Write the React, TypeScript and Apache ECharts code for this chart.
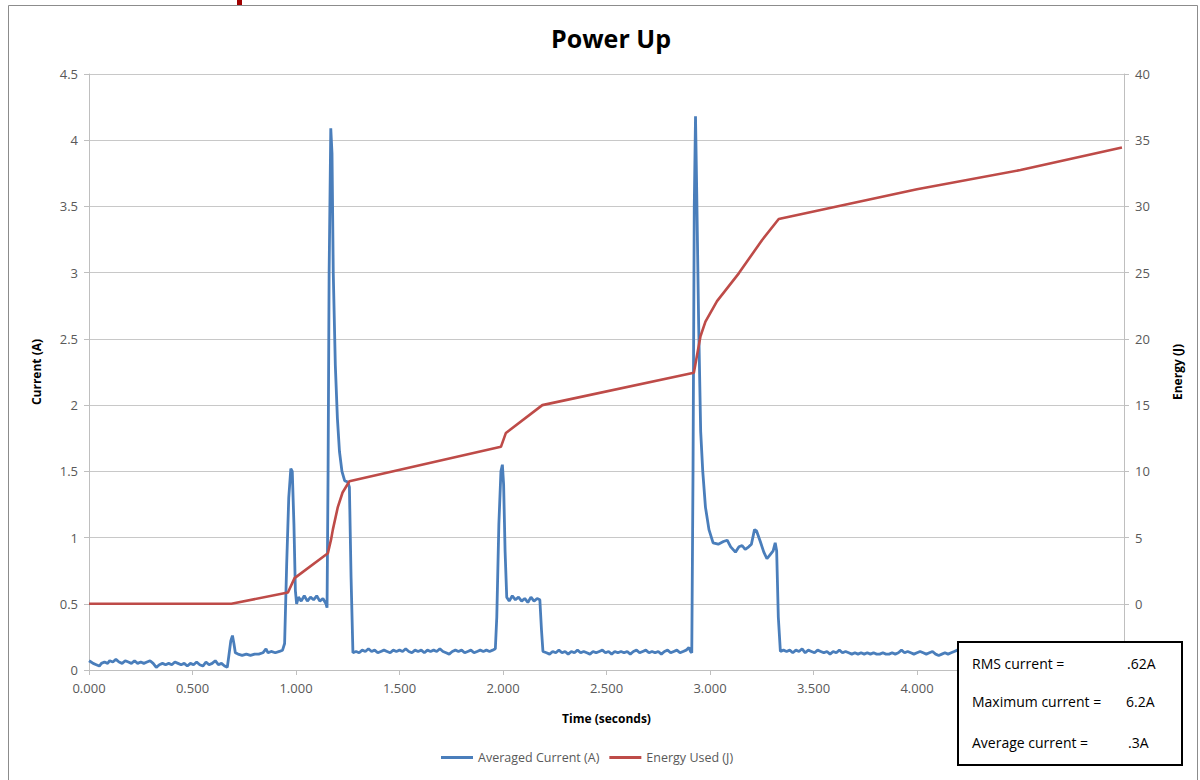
import React, { useEffect, useRef } from "react";
import * as echarts from "echarts";

const TITLE = "Power Up";
const X_TICKS_MIN = 0;
const X_TICKS_MAX = 5;
const X_INTERVAL = 0.5;
const LEFT_MIN = 0;
const LEFT_MAX = 4.5;
const LEFT_INTERVAL = 0.5;
const RIGHT_MIN = -5;
const RIGHT_MAX = 40;
const RIGHT_INTERVAL = 5;

const currentName = "Averaged Current (A)";
const energyName = "Energy Used (J)";

// [time (s), current (A)]
const currentData: [number, number][] = [
  [0.000,0.07],[0.010,0.06],[0.020,0.05],[0.035,0.04],[0.050,0.03],[0.060,0.05],[0.075,0.06],[0.090,0.05],[0.100,0.07],[0.115,0.06],
  [0.130,0.08],[0.145,0.06],[0.160,0.05],[0.175,0.07],[0.190,0.06],[0.205,0.05],[0.220,0.07],[0.235,0.05],[0.250,0.06],[0.265,0.05],
  [0.280,0.06],[0.295,0.07],[0.310,0.05],[0.325,0.02],[0.340,0.04],[0.355,0.05],[0.370,0.04],[0.385,0.05],[0.400,0.04],[0.415,0.06],
  [0.430,0.05],[0.445,0.04],[0.460,0.05],[0.475,0.03],[0.490,0.05],[0.505,0.04],[0.520,0.06],[0.535,0.04],[0.550,0.03],[0.565,0.06],
  [0.580,0.04],[0.595,0.05],[0.610,0.07],[0.625,0.04],[0.640,0.05],[0.655,0.03],[0.668,0.02],[0.675,0.10],[0.685,0.22],[0.693,0.26],
  [0.700,0.20],[0.707,0.13],[0.720,0.12],[0.740,0.11],[0.760,0.12],[0.780,0.11],[0.800,0.12],[0.820,0.12],[0.840,0.13],[0.855,0.16],
  [0.865,0.13],[0.880,0.14],[0.900,0.13],[0.920,0.14],[0.935,0.15],[0.945,0.20],[0.955,0.80],[0.965,1.30],[0.975,1.52],[0.982,1.50],
  [0.990,1.10],[0.997,0.60],[1.003,0.50],[1.012,0.55],[1.025,0.52],[1.040,0.56],[1.055,0.52],[1.070,0.55],[1.085,0.53],[1.100,0.56],
  [1.115,0.52],[1.130,0.54],[1.145,0.50],[1.150,0.47],[1.155,1.50],[1.160,3.00],[1.168,4.09],[1.174,3.90],[1.180,3.00],[1.190,2.30],
  [1.200,1.90],[1.210,1.65],[1.222,1.50],[1.235,1.43],[1.250,1.42],[1.258,1.38],[1.266,0.70],[1.275,0.13],[1.290,0.14],[1.305,0.13],
  [1.320,0.15],[1.335,0.14],[1.350,0.16],[1.365,0.14],[1.380,0.15],[1.395,0.13],[1.410,0.14],[1.425,0.15],[1.440,0.14],[1.455,0.13],
  [1.470,0.15],[1.485,0.14],[1.500,0.15],[1.515,0.14],[1.530,0.16],[1.545,0.14],[1.560,0.13],[1.575,0.15],[1.590,0.14],[1.605,0.15],
  [1.620,0.13],[1.635,0.15],[1.650,0.14],[1.665,0.15],[1.680,0.14],[1.695,0.16],[1.710,0.14],[1.725,0.13],[1.740,0.12],[1.755,0.14],
  [1.770,0.15],[1.785,0.14],[1.800,0.15],[1.815,0.13],[1.830,0.14],[1.845,0.15],[1.860,0.13],[1.875,0.14],[1.890,0.15],[1.905,0.14],
  [1.920,0.15],[1.935,0.14],[1.950,0.15],[1.963,0.16],[1.970,0.40],[1.980,1.10],[1.990,1.50],[1.997,1.55],[2.003,1.40],[2.010,0.90],
  [2.018,0.55],[2.030,0.52],[2.045,0.56],[2.060,0.53],[2.075,0.55],[2.090,0.52],[2.105,0.54],[2.120,0.51],[2.135,0.55],[2.150,0.52],
  [2.165,0.54],[2.178,0.53],[2.186,0.30],[2.193,0.14],[2.210,0.13],[2.225,0.12],[2.240,0.14],[2.255,0.13],[2.270,0.15],[2.285,0.13],
  [2.300,0.14],[2.315,0.12],[2.330,0.14],[2.345,0.13],[2.360,0.15],[2.375,0.13],[2.390,0.14],[2.405,0.13],[2.420,0.12],[2.435,0.14],
  [2.450,0.13],[2.465,0.14],[2.480,0.15],[2.495,0.13],[2.510,0.14],[2.525,0.12],[2.540,0.14],[2.555,0.13],[2.570,0.14],[2.585,0.13],
  [2.600,0.14],[2.615,0.12],[2.630,0.14],[2.645,0.15],[2.660,0.13],[2.675,0.14],[2.690,0.15],[2.705,0.13],[2.720,0.14],[2.735,0.13],
  [2.750,0.14],[2.765,0.12],[2.780,0.14],[2.795,0.15],[2.810,0.13],[2.825,0.14],[2.840,0.15],[2.855,0.13],[2.870,0.14],[2.885,0.15],
  [2.898,0.17],[2.906,0.14],[2.912,0.13],[2.918,1.50],[2.924,3.50],[2.930,4.18],[2.936,3.60],[2.945,2.63],[2.955,1.80],[2.965,1.50],
  [2.978,1.23],[2.995,1.06],[3.015,0.96],[3.040,0.95],[3.065,0.97],[3.083,0.98],[3.100,0.93],[3.123,0.89],[3.140,0.93],[3.155,0.94],
  [3.170,0.91],[3.187,0.93],[3.200,0.95],[3.215,1.06],[3.225,1.05],[3.243,0.97],[3.260,0.89],[3.275,0.84],[3.290,0.87],[3.305,0.90],
  [3.315,0.96],[3.322,0.90],[3.330,0.40],[3.340,0.14],[3.355,0.15],[3.370,0.14],[3.385,0.15],[3.400,0.13],[3.415,0.15],[3.430,0.14],
  [3.445,0.16],[3.460,0.13],[3.475,0.15],[3.490,0.14],[3.505,0.13],[3.520,0.15],[3.535,0.14],[3.550,0.13],[3.565,0.14],[3.580,0.12],
  [3.595,0.14],[3.610,0.13],[3.625,0.15],[3.640,0.13],[3.655,0.14],[3.670,0.13],[3.685,0.12],[3.700,0.13],[3.715,0.12],[3.730,0.13],
  [3.745,0.12],[3.760,0.13],[3.775,0.12],[3.790,0.13],[3.805,0.12],[3.820,0.12],[3.835,0.13],[3.850,0.12],[3.865,0.12],[3.880,0.13],
  [3.895,0.12],[3.910,0.13],[3.925,0.15],[3.940,0.13],[3.955,0.14],[3.970,0.13],[3.985,0.12],[4.000,0.13],[4.015,0.14],[4.030,0.13],
  [4.045,0.12],[4.060,0.13],[4.075,0.14],[4.090,0.12],[4.105,0.11],[4.120,0.12],[4.135,0.13],[4.150,0.12],[4.165,0.13],[4.180,0.14],
  [4.195,0.15],[4.210,0.14],[4.225,0.15],[4.240,0.14]
];

// [time (s), energy (J)]
const energyData: [number, number][] = [
  [0.000,0],[0.688,0],[0.961,0.85],[0.993,1.94],[1.154,3.82],[1.170,4.9],[1.178,5.6],[1.202,7.3],[1.225,8.4],[1.258,9.25],
  [1.990,11.85],[2.014,12.9],[2.190,15.0],[2.922,17.45],[2.954,20.2],[2.978,21.3],[3.034,22.85],[3.139,24.95],[3.251,27.45],
  [3.332,29.05],[4.000,31.3],[4.500,32.75],[4.990,34.45]
];

const statLabels = ["RMS current =", "Maximum current =", "Average current ="];
const statValues = [".62A", "6.2A", ".3A"];

const FONT = "'Open Sans', 'Liberation Sans', sans-serif";
const AXIS_COLOR = "#bfbfbf";
const LABEL_COLOR = "#595959";
const BLUE = "#4a7ebb";
const RED = "#be4b48";

export default function App() {
  const ref = useRef<HTMLDivElement>(null);
  useEffect(() => {
    if (!ref.current) return;
    const chart = echarts.init(ref.current, null, { renderer: "svg" });
    const statRowsY = [663, 701, 742];
    const statValueX = [1127, 1126, 1128];
    const graphics: any[] = [
      { type: "rect", z: 0, silent: true, shape: { x: 8.5, y: 5.5, width: 1189, height: 800 }, style: { fill: "none", stroke: "#8c8c8c", lineWidth: 1 } },
      { type: "rect", z: 0, silent: true, shape: { x: 237, y: 0, width: 5, height: 5 }, style: { fill: "#a00000" } },
      { type: "rect", z: 100, silent: true, shape: { x: 958, y: 642, width: 224, height: 123 }, style: { fill: "#ffffff", stroke: "#000000", lineWidth: 2 } },
    ];
    statLabels.forEach((t, i) => {
      graphics.push({ type: "text", z: 101, x: 972, y: statRowsY[i], style: { text: t, fill: "#000000", font: `14px ${FONT}`, textVerticalAlign: "middle", verticalAlign: "middle" } });
      graphics.push({ type: "text", z: 101, x: statValueX[i], y: statRowsY[i], style: { text: statValues[i], fill: "#000000", font: `14px ${FONT}`, textVerticalAlign: "middle", verticalAlign: "middle" } });
    });
    chart.setOption({
      animation: false,
      backgroundColor: "#ffffff",
      textStyle: { fontFamily: FONT },
      title: {
        text: TITLE,
        left: 606,
        textAlign: "center",
        top: 20,
        textStyle: { fontSize: 25, fontWeight: "bold", color: "#000000", fontFamily: FONT },
      },
      grid: { left: 89, right: 76, top: 74, bottom: 110, containLabel: false, outerBoundsMode: "none" },
      legend: {
        data: [currentName, energyName],
        bottom: 11,
        left: 436,
        icon: "rect",
        itemWidth: 32,
        itemHeight: 3,
        itemGap: 10,
        textStyle: { fontSize: 12.5, color: LABEL_COLOR, fontFamily: FONT },
      },
      xAxis: {
        type: "value",
        min: X_TICKS_MIN,
        max: X_TICKS_MAX,
        interval: X_INTERVAL,
        name: "Time (seconds)",
        nameLocation: "middle",
        nameGap: 42,
        nameTextStyle: { fontSize: 12, fontWeight: "bold", color: "#000000", fontFamily: FONT },
        axisLine: { show: true, lineStyle: { color: AXIS_COLOR, width: 1 } },
        axisTick: { show: true, length: 5, lineStyle: { color: AXIS_COLOR } },
        axisLabel: {
          fontSize: 13,
          color: LABEL_COLOR,
          margin: 11,
          formatter: (v: number) => (v > 4.2 ? "" : v.toFixed(3)),
        },
        splitLine: { show: false },
      },
      yAxis: [
        {
          type: "value",
          min: LEFT_MIN,
          max: LEFT_MAX,
          interval: LEFT_INTERVAL,
          name: "Current (A)",
          nameLocation: "middle",
          nameGap: 47,
          nameTextStyle: { fontSize: 12, fontWeight: "bold", color: "#000000", fontFamily: FONT },
          axisLine: { show: true, lineStyle: { color: AXIS_COLOR, width: 1 } },
          axisTick: { show: true, length: 5, lineStyle: { color: AXIS_COLOR } },
          axisLabel: { fontSize: 13, color: LABEL_COLOR, margin: 11 },
          splitLine: { show: true, lineStyle: { color: "#c8c8c8", width: 1 } },
        },
        {
          type: "value",
          position: "right",
          min: RIGHT_MIN,
          max: RIGHT_MAX,
          interval: RIGHT_INTERVAL,
          name: "Energy (J)",
          nameLocation: "middle",
          nameGap: 47,
          nameTextStyle: { fontSize: 12, fontWeight: "bold", color: "#000000", fontFamily: FONT },
          axisLine: { show: true, lineStyle: { color: AXIS_COLOR, width: 1 } },
          axisTick: { show: true, length: 5, lineStyle: { color: AXIS_COLOR } },
          axisLabel: { fontSize: 13, color: LABEL_COLOR, margin: 11, formatter: (v: number) => (v < 0 ? "" : String(v)) },
          splitLine: { show: false },
        },
      ],
      series: [
        {
          name: currentName,
          type: "line",
          data: currentData,
          yAxisIndex: 0,
          showSymbol: false,
          symbol: "none",
          lineStyle: { color: BLUE, width: 2.8 },
          itemStyle: { color: BLUE },
          z: 2,
        },
        {
          name: energyName,
          type: "line",
          data: energyData,
          yAxisIndex: 1,
          showSymbol: false,
          symbol: "none",
          lineStyle: { color: RED, width: 2.6 },
          itemStyle: { color: RED },
          z: 3,
        },
      ],
      graphic: { elements: graphics },
    });
    return () => chart.dispose();
  }, []);
  return (
    <div
      ref={ref}
      style={{ position: "absolute", left: 0, top: 0, width: 1200, height: 780 }}
    />
  );
}
